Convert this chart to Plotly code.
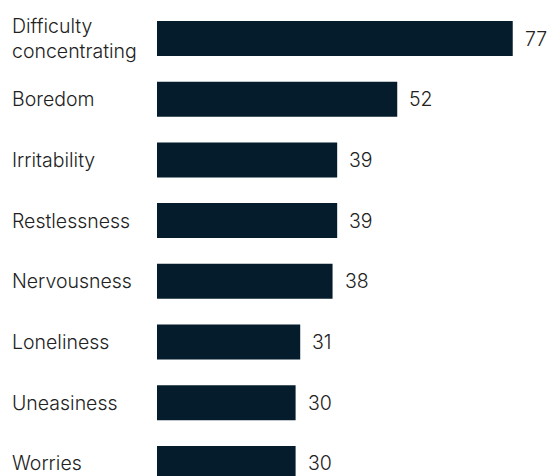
import plotly.graph_objects as go

# Share of respondents reporting each symptom (%)
symptoms = ["Difficulty<br>concentrating", "Boredom", "Irritability", "Restlessness",
            "Nervousness", "Loneliness", "Uneasiness", "Worries"]
values = [77, 52, 39, 39, 38, 31, 30, 30]

BAR_COLOR = "#051C2C"
TEXT_COLOR = "#222222"
FONT = "Inter, Liberation Sans, Arial, sans-serif"
FONT_SIZE = 19.5
FONT_WEIGHT = 300

W, H = 552, 476
LEFT = 157
positions = list(range(len(values)))

fig = go.Figure(
    go.Bar(
        x=values,
        y=positions,
        orientation="h",
        width=0.577,
        marker=dict(color=BAR_COLOR, line=dict(width=0)),
        hoverinfo="skip",
    )
)

annotations = []
plot_w = W - LEFT
label_font = dict(family=FONT, size=FONT_SIZE, color=TEXT_COLOR, weight=FONT_WEIGHT)
for pos, label, val in zip(positions, symptoms, values):
    # category label, left aligned at the page edge
    annotations.append(dict(
        x=(10 - LEFT) / plot_w, xref="paper", y=pos, yref="y",
        text=label, showarrow=False, xanchor="left", yanchor="middle",
        align="left", font=label_font,
    ))
    # value label just past the bar end
    annotations.append(dict(
        x=val, xref="x", y=pos, yref="y",
        text=str(val), showarrow=False, xanchor="left", yanchor="middle",
        xshift=10, font=label_font,
    ))

px_per_unit = 4.62
fig.update_layout(
    width=W, height=H,
    margin=dict(l=LEFT, r=0, t=0, b=0),
    paper_bgcolor="white", plot_bgcolor="white",
    showlegend=False,
    xaxis=dict(range=[0, plot_w / px_per_unit], visible=False, fixedrange=True),
    yaxis=dict(range=[(H - 38.5) / 60.7, -38.5 / 60.7], visible=False, fixedrange=True),
    annotations=annotations,
)

fig.write_html("out.html")
